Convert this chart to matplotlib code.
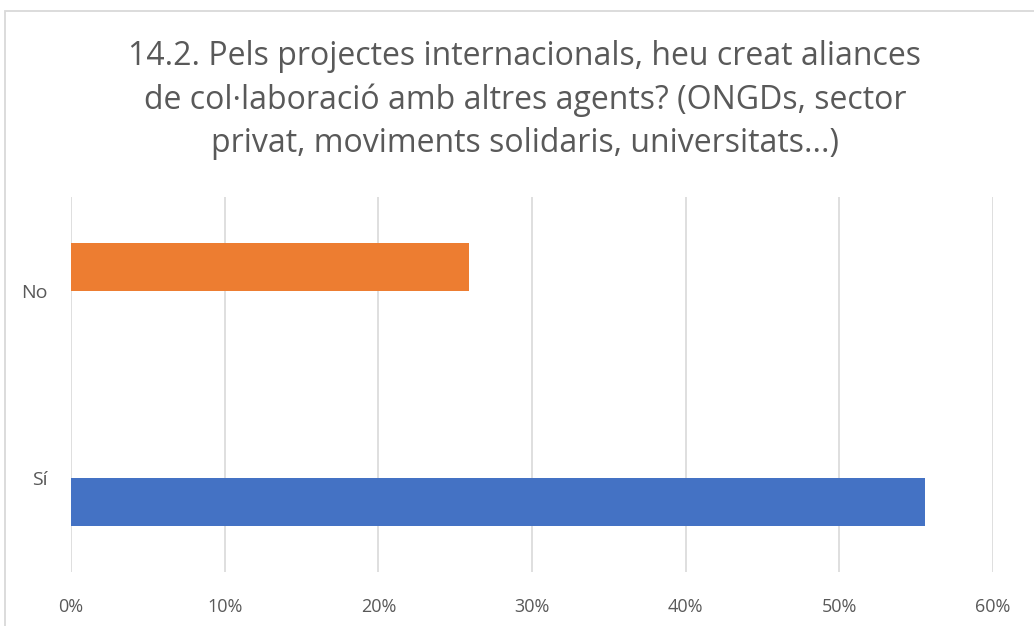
import matplotlib
matplotlib.use("Agg")
import matplotlib.pyplot as plt
from matplotlib.patches import Rectangle
from matplotlib.ticker import FuncFormatter

categories = ["Sí", "No"]
values = [55.6, 25.9]
colors = ["#4472C4", "#ED7D31"]
offsets = [-1, 1]  # Sí bar below category centre, No bar above
ticks = [0, 10, 20, 30, 40, 50, 60]
title = ("14.2. Pels projectes internacionals, heu creat aliances\n"
         "de col·laboració amb altres agents? (ONGDs, sector\n"
         "privat, moviments solidaris, universitats...)")

plt.rcParams['font.family'] = ['Open Sans', 'DejaVu Sans']
W, H = 1034, 626
fig = plt.figure(figsize=(W/100, H/100), dpi=100)
fig.patch.set_facecolor("white")

# chart frame
fig.patches.append(Rectangle((5/W, -0.05), 1.2, 1 - 11/H + 0.05, transform=fig.transFigure,
                             fill=False, edgecolor="#D9D9D9", linewidth=1.3))

ax = fig.add_axes([71/W, 1 - 572/H, (993-71)/W, (572-197)/H])
bh = 0.256
for i, (c, v, col, o) in enumerate(zip(categories, values, colors, offsets)):
    ax.barh(i, v, height=o*bh, align='edge', color=col, zorder=3)

ax.set_xlim(0, 60)
ax.set_ylim(-0.5, 1.5)
ax.set_xticks(ticks)
ax.xaxis.set_major_formatter(FuncFormatter(lambda x, p: f"{int(x)}%"))
ax.set_yticks(range(len(categories)))
ax.set_yticklabels(categories)
ax.grid(axis='x', color="#D9D9D9", linewidth=1.2, zorder=0)
for s in ax.spines.values():
    s.set_visible(False)
ax.tick_params(axis='x', length=0, labelsize=13, colors="#595959", pad=19)
ax.tick_params(axis='y', length=0, labelsize=14, colors="#595959", pad=17)

fig.text(525/W, 1 - 100/H, title, ha='center', va='center', fontsize=23,
         color="#595959", linespacing=1.4)

fig.savefig("out.png", dpi=100)
